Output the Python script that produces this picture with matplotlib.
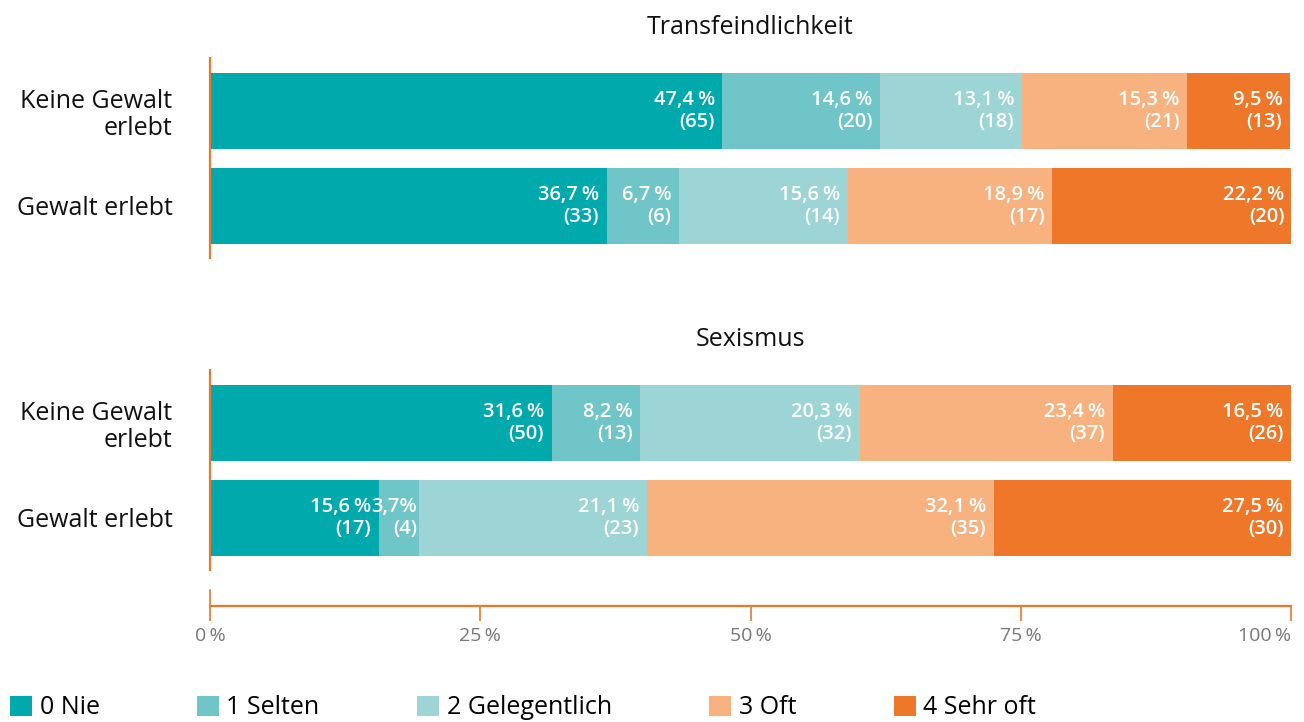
import numpy as np
import matplotlib
matplotlib.use("Agg")
import matplotlib.pyplot as plt
from matplotlib.patches import Patch

plt.rcParams['font.family'] = ['Open Sans', 'DejaVu Sans']

# data
categories = ["0 Nie", "1 Selten", "2 Gelegentlich", "3 Oft", "4 Sehr oft"]
groups = ["Keine Gewalt\nerlebt", "Gewalt erlebt"]
titles = ["Transfeindlichkeit", "Sexismus"]

trans_pct = [[47.4, 14.6, 13.1, 15.3, 9.5],
             [36.7, 6.7, 15.6, 18.9, 22.2]]
trans_n = [[65, 20, 18, 21, 13],
           [33, 6, 14, 17, 20]]
sex_pct = [[31.6, 8.2, 20.3, 23.4, 16.5],
           [15.6, 3.7, 21.1, 32.1, 27.5]]
sex_n = [[50, 13, 32, 37, 26],
         [17, 4, 23, 35, 30]]

xticks = [0, 25, 50, 75, 100]
xticklabels = ["0\u2009%", "25\u2009%", "50\u2009%", "75\u2009%", "100\u2009%"]

colors = ["#00A9AC", "#6FC5C7", "#9DD4D6", "#F7B27F", "#EF7729"]
orange = "#EF7729"

W, H = 1304, 722
fig = plt.figure(figsize=(W / 100, H / 100), dpi=100)

x0, x1 = 210, 1291
panels = [(58, 258), (370, 570)]


def fmt(v):
    s = f"{v:.1f}".replace(".", ",")
    return s + ("%" if v < 5 else "\u2009%")


for (top, bot), title, pct, n in zip(panels, titles, [trans_pct, sex_pct], [trans_n, sex_n]):
    ax = fig.add_axes([x0 / W, 1 - bot / H, (x1 - x0) / W, (bot - top) / H])
    for i in range(len(groups)):
        left = 0
        for j in range(len(categories)):
            v = pct[i][j]
            ax.barh(i, v, left=left, height=0.8, color=colors[j], linewidth=0)
            off = -1 if v < 5 else -5.5
            ax.annotate(f"{fmt(v)}\n({n[i][j]})", xy=(left + v, i), xytext=(off, 0),
                        textcoords="offset points", ha="right", va="center",
                        color="white", fontsize=14.5, fontweight="semibold",
                        linespacing=1.12, annotation_clip=False)
            left += v
    ax.set_xlim(0, 100)
    ax.set_ylim(1.553, -0.558)
    ax.set_yticks(range(len(groups)))
    ax.set_yticklabels(groups, fontsize=18, color="#111111", linespacing=1.1)
    ax.tick_params(axis="y", length=0, pad=27)
    ax.set_xticks([])
    for s in ["top", "right", "bottom"]:
        ax.spines[s].set_visible(False)
    ax.spines["left"].set_color(orange)
    ax.spines["left"].set_linewidth(1.6)
    ax.set_title(title, fontsize=18, color="#111111", pad=17)

# separate x axis
axx = fig.add_axes([x0 / W, 1 - 606 / H, (x1 - x0) / W, 16 / H])
axx.set_xlim(0, 100)
axx.set_ylim(0, 1)
axx.set_yticks([])
axx.set_xticks(xticks)
axx.set_xticklabels(xticklabels, fontsize=14, color="#777777")
axx.get_xticklabels()[-1].set_horizontalalignment("right")
axx.get_xticklabels()[-1].set_x(100.2)
axx.tick_params(axis="x", length=11, width=1.2, color=orange, pad=4)
for s in ["top", "right"]:
    axx.spines[s].set_visible(False)
axx.spines["left"].set_color(orange)
axx.spines["left"].set_linewidth(1.2)
axx.spines["bottom"].set_color(orange)
axx.spines["bottom"].set_linewidth(1.6)
axx.patch.set_alpha(0)

handles = [Patch(facecolor=c, edgecolor="none") for c in colors]
fig.legend(handles, categories, loc="center left",
           bbox_to_anchor=(10 / W, 1 - 708 / H), ncol=5, frameon=False,
           fontsize=18, handlelength=0.88, handleheight=0.88, handletextpad=0.3,
           columnspacing=3.9, borderpad=0, borderaxespad=0)

fig.savefig("out.png", dpi=100)
